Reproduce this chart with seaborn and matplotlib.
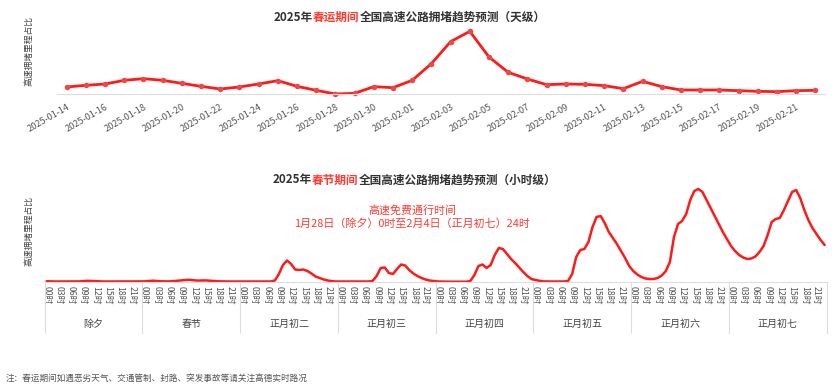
"""
Spring Festival highway congestion forecast: daily (top) and hourly (bottom).
"""

import matplotlib
import matplotlib.pyplot as plt
import matplotlib.transforms as mtransforms
import numpy as np
import pandas as pd
import seaborn as sns

matplotlib.use("Agg")

sns.set_theme(style="white")
plt.rcParams["font.family"] = ["Noto Sans CJK SC", "DejaVu Sans"]

RED = "#ff1a1a"
TITLE_RED = "#ff3b30"
DARK = "#333333"
GREY = "#555555"
LINE_GREY = "#dddddd"

# ------------------------------------------------------------------
# Data
# ------------------------------------------------------------------

daily_dates = pd.date_range("2025-01-14", "2025-02-22", freq="D").strftime("%Y-%m-%d").tolist()
daily_values = [
    2.1, 2.6, 3.0, 4.1, 4.6, 4.1, 3.2, 2.3, 1.5, 2.1,
    3.0, 4.0, 2.3, 1.1, 0.0, 0.2, 2.2, 1.9, 4.1, 9.1,
    15.7, 18.8, 11.1, 6.5, 4.5, 2.8, 3.0, 2.9, 2.5, 1.6,
    3.8, 2.2, 1.2, 1.2, 1.2, 1.0, 0.8, 0.7, 1.0, 1.1,
]

day_names = ["除夕", "春节", "正月初二", "正月初三", "正月初四", "正月初五", "正月初六", "正月初七"]
hour_labels = [f"{h:02d}时" for h in range(24)]

chuxi = [0.8, 0.6, 0.5, 0.5, 0.5, 0.5, 0.5, 0.5, 0.6, 0.8, 1.2, 1.0,
         0.7, 0.5, 0.5, 0.5, 0.5, 0.5, 0.5, 0.5, 0.5, 0.5, 0.5, 0.5]
chunjie = [0.6, 1.0, 1.3, 1.0, 0.7, 0.6, 0.6, 0.8, 1.2, 1.6, 2.0, 2.2,
           1.8, 1.4, 1.5, 1.6, 1.3, 0.9, 0.7, 0.6, 0.5, 0.5, 0.5, 0.5]
chu2 = [0.5, 0.5, 0.5, 0.5, 0.5, 0.5, 0.5, 0.5, 1.5, 8.0, 17.0, 21.5,
        18.0, 12.5, 12.0, 12.5, 11.0, 8.5, 5.5, 4.0, 2.5, 1.5, 0.8, 0.5]
chu3 = [0.5, 0.5, 0.5, 0.5, 0.5, 0.5, 0.5, 0.5, 1.0, 6.0, 14.0, 14.5,
        9.0, 8.0, 13.0, 17.5, 16.5, 12.0, 8.5, 6.0, 4.0, 2.5, 1.5, 1.0]
chu4 = [0.5, 0.4, 0.3, 0.3, 0.3, 0.3, 0.3, 0.3, 1.0, 7.0, 16.0, 17.5,
        14.0, 17.0, 27.0, 34.0, 33.0, 28.0, 23.0, 19.0, 14.5, 10.0, 6.0, 3.0]
chu5 = [2.0, 1.2, 0.6, 0.5, 0.5, 0.5, 0.5, 0.5, 1.0, 8.0, 25.0, 32.0,
        33.0, 40.0, 55.0, 65.0, 66.0, 59.0, 50.0, 44.0, 38.0, 31.0, 24.0, 16.0]
chu6 = [11.0, 7.5, 5.0, 3.5, 3.0, 3.0, 4.0, 6.5, 11.0, 20.0, 45.0, 58.0,
        61.0, 68.0, 82.0, 91.0, 93.0, 90.0, 82.0, 74.0, 66.0, 58.0, 50.0, 43.0]
chu7 = [36.0, 31.0, 27.0, 24.5, 23.0, 23.5, 25.5, 30.0, 36.0, 47.0, 60.0, 63.0,
        64.0, 72.0, 81.0, 90.0, 92.0, 84.0, 72.0, 62.0, 54.0, 48.0, 42.0, 37.0]

hourly_days = [chuxi, chunjie, chu2, chu3, chu4, chu5, chu6, chu7]


# ------------------------------------------------------------------
# Helpers
# ------------------------------------------------------------------


def _draw_title(fig, x, y, parts, size=8.4):
    """Draw a title made of differently coloured pieces, left to right."""
    first_txt, first_color = parts[0]
    prev = fig.text(x, y, first_txt, color=first_color, fontsize=size, fontweight="bold",
                    ha="left", va="center")
    for txt, color in parts[1:]:
        prev = fig.axes[0].annotate(txt, xy=(1, 0.5), xycoords=prev, ha="left", va="center",
                                    color=color, fontsize=size, fontweight="bold",
                                    annotation_clip=False)


def _clean_axes(ax):
    ax.set_yticks([])
    for side in ["top", "right", "left"]:
        ax.spines[side].set_visible(False)
    ax.spines["bottom"].set_color(LINE_GREY)
    ax.spines["bottom"].set_linewidth(0.8)
    ax.set_xlabel("")
    ax.set_ylabel("")


# ------------------------------------------------------------------
# Figure
# ------------------------------------------------------------------

fig = plt.figure(figsize=(8.32, 3.90), dpi=100)
fig.patch.set_facecolor("white")

W, H = 832.0, 390.0
ax1 = fig.add_axes([57 / W, 1 - 94 / H, 768 / W, 69 / H])
ax2 = fig.add_axes([44.7 / W, 1 - 282 / H, 782 / W, 95 / H])

# --- top: daily --------------------------------------------------
day_idx = np.arange(len(daily_values))
sns.lineplot(x=day_idx, y=daily_values, ax=ax1, color=RED, linewidth=2.0,
             marker="o", markersize=4, markerfacecolor="#e84a4a", markeredgewidth=0)
for line in ax1.lines:
    line.set_clip_on(False)
ax1.set_xlim(-0.5, len(daily_values) - 0.5)
ax1.set_ylim(0, 20.7)
ax1.set_xticks(day_idx[::2])
ax1.set_xticklabels(daily_dates[::2], rotation=30, ha="right", rotation_mode="anchor",
                    fontsize=6.6, color=GREY)
ax1.tick_params(axis="x", length=0, pad=6)
_clean_axes(ax1)

# --- bottom: hourly ----------------------------------------------
hourly_values = [v for day in hourly_days for v in day]
hour_idx = np.arange(len(hourly_values))
sns.lineplot(x=hour_idx, y=hourly_values, ax=ax2, color=RED, linewidth=1.8)
for line in ax2.lines:
    line.set_clip_on(False)
ax2.set_xlim(-0.5, len(hourly_values) - 0.5)
ax2.set_ylim(0, 95)
ax2.set_xticks(hour_idx[::3])
ax2.set_xticklabels([hour_labels[i % 24] for i in hour_idx[::3]], rotation=270,
                    fontsize=6.3, color=GREY)
ax2.tick_params(axis="x", length=0, pad=3)
_clean_axes(ax2)

trans = mtransforms.blended_transform_factory(ax2.transData, ax2.transAxes)
for d in range(len(day_names) + 1):
    xb = d * 24 - 0.5
    ax2.plot([xb, xb], [0, -0.537], transform=trans, color=LINE_GREY, linewidth=0.8,
             clip_on=False)
for d, name in enumerate(day_names):
    ax2.text(d * 24 + 11.5, -0.442, name, transform=trans, ha="center", va="center",
             fontsize=7.2, color="#444444")

ax2.text(412 / W, 1 - 210 / H, "高速免费通行时间", transform=fig.transFigure,
         ha="center", va="center", fontsize=7.9, color=TITLE_RED)
ax2.text(412 / W, 1 - 223.5 / H, "1月28日（除夕）0时至2月4日（正月初七）24时",
         transform=fig.transFigure, ha="center", va="center", fontsize=7.9, color=TITLE_RED)

# --- titles, axis names, note ------------------------------------
_draw_title(fig, 274 / W, 1 - 17 / H,
            [("2025年", DARK), ("春运期间", TITLE_RED), ("全国高速公路拥堵趋势预测（天级）", DARK)])
_draw_title(fig, 273 / W, 1 - 180 / H,
            [("2025年", DARK), ("春节期间", TITLE_RED), ("全国高速公路拥堵趋势预测（小时级）", DARK)])

fig.text(29 / W, 1 - 51 / H, "高速拥堵里程占比", rotation=90, ha="center", va="center",
         fontsize=6.3, color="#444444")
fig.text(29 / W, 1 - 231 / H, "高速拥堵里程占比", rotation=90, ha="center", va="center",
         fontsize=6.3, color="#444444")

fig.text(6 / W, 1 - 378 / H, "注：春运期间如遇恶劣天气、交通管制、封路、突发事故等请关注高德实时路况",
         ha="left", va="center", fontsize=6.2, color=GREY)

fig.savefig("out.png", dpi=100, facecolor="white")
